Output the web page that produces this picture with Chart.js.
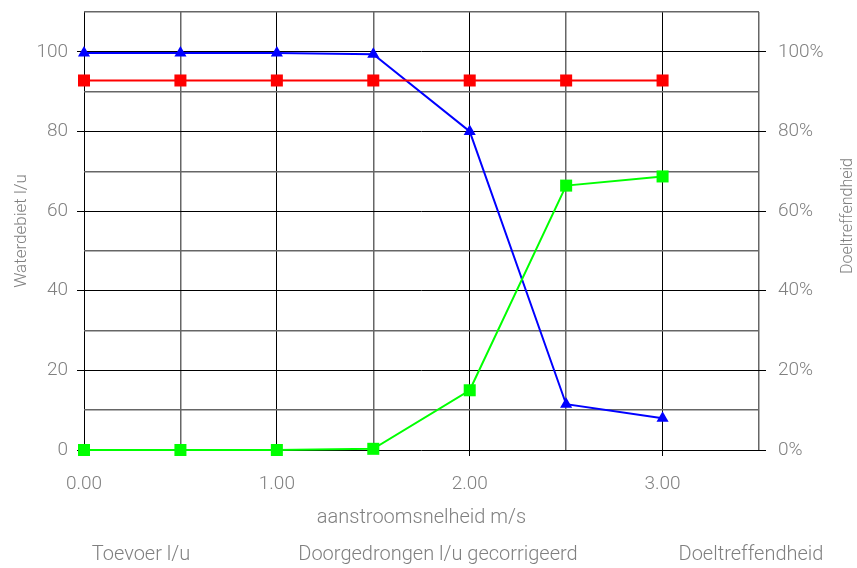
<!DOCTYPE html>
<html>
<head>
<meta charset="utf-8">
<script src="https://cdn.jsdelivr.net/npm/chart.js@4"></script>
<style>
  html, body { margin: 0; padding: 0; background: #fff; }
  #wrap { width: 857px; height: 568px; }
</style>
</head>
<body>
<div id="wrap"><canvas id="chart"></canvas></div>
<script>
// Data
const speeds = [0, 0.5, 1, 1.5, 2, 2.5, 3];
const toevoer = [92.8, 92.8, 92.8, 92.8, 92.8, 92.8, 92.8];
const doorgedrongen = [0, 0, 0, 0.3, 15, 66.4, 68.7];
const doeltreffendheid = [99.7, 99.7, 99.7, 99.4, 80, 11.5, 8];

const seriesNames = ["Toevoer l/u", "Doorgedrongen l/u gecorrigeerd", "Doeltreffendheid"];
const leftTicks = [0, 20, 40, 60, 80, 100];
const rightTicks = [0, 20, 40, 60, 80, 100];
const xTicks = [0, 1, 2, 3];

const grey = "#808080";
const font = size => ({ family: "Roboto", size: size, weight: 300 });

const toPoints = vals => vals.map((v, i) => ({ x: speeds[i], y: v }));

// Legend texts and right-hand axis title (reads bottom to top)
const extras = {
  id: "extras",
  afterDraw(chart) {
    const ctx = chart.ctx;
    ctx.save();
    ctx.fillStyle = grey;
    ctx.textBaseline = "middle";
    ctx.textAlign = "center";
    ctx.font = "300 20px Roboto";
    const centers = [141, 438, 751];
    seriesNames.forEach((name, i) => ctx.fillText(name, centers[i], 555));

    ctx.font = "300 16px Roboto";
    ctx.translate(848, 216);
    ctx.rotate(-Math.PI / 2);
    ctx.fillText("Doeltreffendheid", 0, 0);
    ctx.restore();
  }
};

// fixed axis sizes so the plot area sits where the reference has it
const fitY = width => s => {
  s.width = width;
  s.paddingTop = 0;
  s.paddingBottom = 0;
};

new Chart(document.getElementById("chart"), {
  type: "line",
  data: {
    datasets: [
      {
        label: seriesNames[0],
        data: toPoints(toevoer),
        yAxisID: "y",
        borderColor: "#ff0000",
        backgroundColor: "#ff0000",
        borderWidth: 2,
        pointStyle: "rect",
        pointRadius: 8.5,
        pointBorderWidth: 0,
        clip: false
      },
      {
        label: seriesNames[1],
        data: toPoints(doorgedrongen),
        yAxisID: "y",
        borderColor: "#00ff00",
        backgroundColor: "#00ff00",
        borderWidth: 2,
        pointStyle: "rect",
        pointRadius: 8.5,
        pointBorderWidth: 0,
        clip: false
      },
      {
        label: seriesNames[2],
        data: toPoints(doeltreffendheid),
        yAxisID: "y2",
        borderColor: "#0000ff",
        backgroundColor: "#0000ff",
        borderWidth: 2,
        pointStyle: "triangle",
        pointRadius: 7,
        pointBorderWidth: 0,
        clip: false
      }
    ]
  },
  options: {
    responsive: true,
    maintainAspectRatio: false,
    animation: false,
    layout: { padding: { top: 12, bottom: 38, left: 0, right: 0 } },
    plugins: {
      legend: { display: false },
      tooltip: { enabled: false }
    },
    scales: {
      x: {
        type: "linear",
        min: 0,
        max: 3.5,
        afterFit: s => { s.height = 80; },
        border: { display: false },
        grid: {
          color: c => Number.isInteger(c.tick.value) ? "#000" : "#666",
          lineWidth: c => Number.isInteger(c.tick.value) ? 1 : 1.5,
          tickLength: 6,
          tickColor: c => xTicks.includes(c.tick.value) ? "#000" : "transparent"
        },
        ticks: {
          stepSize: 0.5,
          autoSkip: false,
          maxRotation: 0,
          padding: 17,
          color: grey,
          font: font(19),
          callback: v => xTicks.includes(v) ? v.toFixed(2) : ""
        },
        title: {
          display: true,
          text: "aanstroomsnelheid m/s",
          color: grey,
          font: font(20),
          padding: { top: 0, bottom: 0 }
        }
      },
      y: {
        position: "left",
        min: 0,
        max: 110,
        afterFit: fitY(84),
        border: { display: false },
        grid: {
          color: c => leftTicks.includes(c.tick.value) ? "#000" : "#666",
          lineWidth: c => leftTicks.includes(c.tick.value) ? 1 : 1.5,
          tickLength: 7,
          tickColor: c => leftTicks.includes(c.tick.value) ? "#000" : "transparent"
        },
        ticks: {
          stepSize: 10,
          padding: 9,
          color: grey,
          font: font(19),
          callback: v => leftTicks.includes(v) ? v : ""
        },
        title: {
          display: true,
          text: "Waterdebiet l/u",
          color: grey,
          font: font(17),
          padding: { top: 12, bottom: 0 }
        }
      },
      y2: {
        position: "right",
        min: 0,
        max: 110,
        afterFit: fitY(98),
        border: { display: false },
        grid: {
          drawOnChartArea: false,
          tickLength: 7,
          color: "#000",
          tickColor: c => rightTicks.includes(c.tick.value) ? "#000" : "transparent"
        },
        ticks: {
          stepSize: 10,
          padding: 12,
          color: grey,
          font: font(19),
          callback: v => rightTicks.includes(v) ? v + "%" : ""
        }
      }
    }
  },
  plugins: [extras]
});
</script>
</body>
</html>
